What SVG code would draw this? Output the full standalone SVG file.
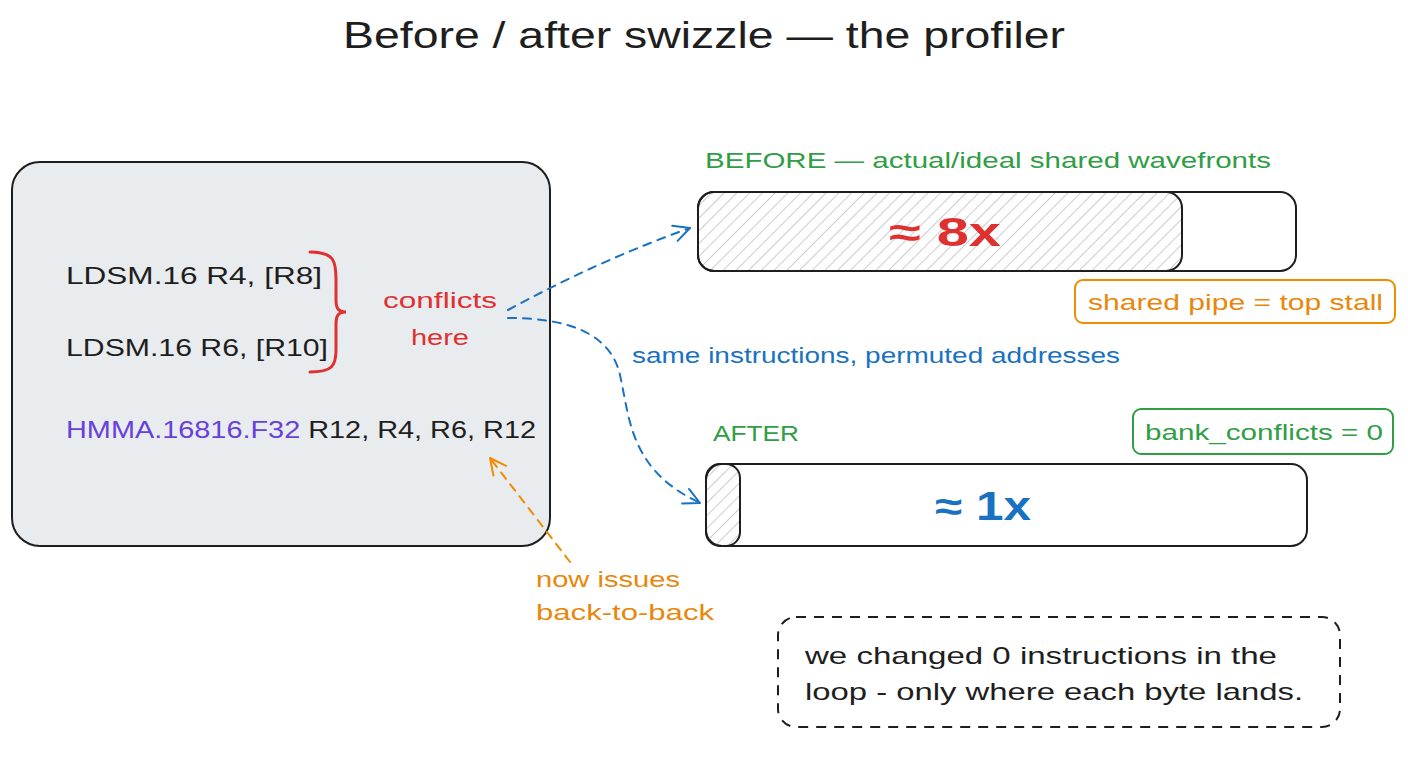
<svg xmlns="http://www.w3.org/2000/svg" width="1408" height="768" viewBox="0 0 1408 768">
<defs>
<pattern id="hatch" patternUnits="userSpaceOnUse" width="9" height="9" patternTransform="rotate(45)">
<line x1="0" y1="0" x2="0" y2="9" stroke="#9a9a9a" stroke-width="1"/>
</pattern>
<marker id="ab" viewBox="0 0 20 20" refX="18" refY="10" markerWidth="20" markerHeight="20" markerUnits="userSpaceOnUse" orient="auto">
<path d="M2,2 L18,10 L2,18" fill="none" stroke="#1971c2" stroke-width="2" stroke-linecap="round" stroke-linejoin="round"/>
</marker>
<marker id="ao" viewBox="0 0 20 20" refX="18" refY="10" markerWidth="20" markerHeight="20" markerUnits="userSpaceOnUse" orient="auto">
<path d="M2,2 L18,10 L2,18" fill="none" stroke="#f08c00" stroke-width="2" stroke-linecap="round" stroke-linejoin="round"/>
</marker>
</defs>
<style>
text{font-family:"Liberation Sans","DejaVu Sans",sans-serif;}
.code{font-size:24px;fill:#1e1e1e;}
.lbl{font-size:22px;}
.green{fill:#2f9e44;}
.blue{fill:#1971c2;}
.red{fill:#e03131;}
.orange{fill:#e8870c;}
.box{stroke:#1e1e1e;stroke-width:2;}
</style>
<rect width="1408" height="768" fill="#ffffff"/>
<text x="704" y="48" text-anchor="middle" font-size="36" fill="#1e1e1e" textLength="722" lengthAdjust="spacingAndGlyphs">Before / after swizzle — the profiler</text>

<g id="code-box">
<rect x="12" y="162" width="538" height="384" rx="28" fill="#e9ecef" class="box"/>
<text x="66" y="284" class="code" textLength="256" lengthAdjust="spacingAndGlyphs">LDSM.16 R4, [R8]</text>
<text x="66" y="356" class="code" textLength="262" lengthAdjust="spacingAndGlyphs">LDSM.16 R6, [R10]</text>
<text x="66" y="438" class="code" textLength="470" lengthAdjust="spacingAndGlyphs"><tspan fill="#6741d9">HMMA.16816.F32</tspan> R12, R4, R6, R12</text>
<path d="M310,252 C335,252 336,262 336,280 L336,300 C336,308 338,312 346,312 C338,312 336,316 336,324 L336,350 C336,366 332,372 310,372" fill="none" stroke="#e03131" stroke-width="3" stroke-linecap="round"/>
<text x="440" y="308" text-anchor="middle" class="lbl red" font-size="24" textLength="114" lengthAdjust="spacingAndGlyphs">conflicts</text>
<text x="440" y="345" text-anchor="middle" class="lbl red" font-size="24" textLength="58" lengthAdjust="spacingAndGlyphs">here</text>
</g>

<g id="connectors" fill="none" stroke-width="2" stroke-dasharray="8 7" stroke-linecap="round">
<path d="M508,310 Q600,260 690,228" stroke="#1971c2" marker-end="url(#ab)"/>
<path d="M508,318 C580,318 612,340 620,375 C630,420 630,470 700,503" stroke="#1971c2" marker-end="url(#ab)"/>
<path d="M570,562 L490,458" stroke="#f08c00" marker-end="url(#ao)"/>
</g>

<g id="label-same">
<text x="632" y="363" class="lbl blue" textLength="488" lengthAdjust="spacingAndGlyphs">same instructions, permuted addresses</text>
</g>

<g id="before">
<text x="705" y="168" class="lbl green" textLength="566" lengthAdjust="spacingAndGlyphs">BEFORE — actual/ideal shared wavefronts</text>
<rect x="698" y="192" width="598" height="79" rx="16" fill="#ffffff" class="box"/>
<rect x="698" y="192" width="484" height="79" rx="16" fill="url(#hatch)" class="box"/>
<text x="945" y="246" text-anchor="middle" font-size="40" font-weight="bold" class="red" textLength="112" lengthAdjust="spacingAndGlyphs">≈ 8x</text>
</g>

<g id="note-stall">
<rect x="1075" y="280" width="320" height="43" rx="8" fill="none" stroke="#f08c00" stroke-width="2"/>
<text x="1088" y="310" class="lbl orange" textLength="295" lengthAdjust="spacingAndGlyphs">shared pipe = top stall</text>
</g>

<g id="after">
<text x="713" y="441" class="lbl green" textLength="86" lengthAdjust="spacingAndGlyphs">AFTER</text>
<rect x="706" y="464" width="601" height="82" rx="16" fill="#ffffff" class="box"/>
<rect x="706" y="464" width="34" height="82" rx="14" fill="url(#hatch)" class="box"/>
<text x="983" y="520" text-anchor="middle" font-size="40" font-weight="bold" class="blue" textLength="96" lengthAdjust="spacingAndGlyphs">≈ 1x</text>
</g>

<g id="note-bank">
<rect x="1133" y="409" width="260" height="45" rx="8" fill="none" stroke="#2f9e44" stroke-width="2"/>
<text x="1145" y="440" class="lbl green" textLength="238" lengthAdjust="spacingAndGlyphs">bank_conflicts = 0</text>
</g>

<g id="note-issues">
<text x="536" y="587" class="lbl orange" textLength="144" lengthAdjust="spacingAndGlyphs">now issues</text>
<text x="536" y="620" class="lbl orange" textLength="178" lengthAdjust="spacingAndGlyphs">back-to-back</text>
</g>

<g id="note-changed">
<rect x="778" y="617" width="562" height="110" rx="18" fill="none" stroke="#1e1e1e" stroke-width="2" stroke-dasharray="10 8"/>
<text x="805" y="664" class="code" textLength="472" lengthAdjust="spacingAndGlyphs">we changed 0 instructions in the</text>
<text x="805" y="700" class="code" textLength="498" lengthAdjust="spacingAndGlyphs">loop - only where each byte lands.</text>
</g>
</svg>
